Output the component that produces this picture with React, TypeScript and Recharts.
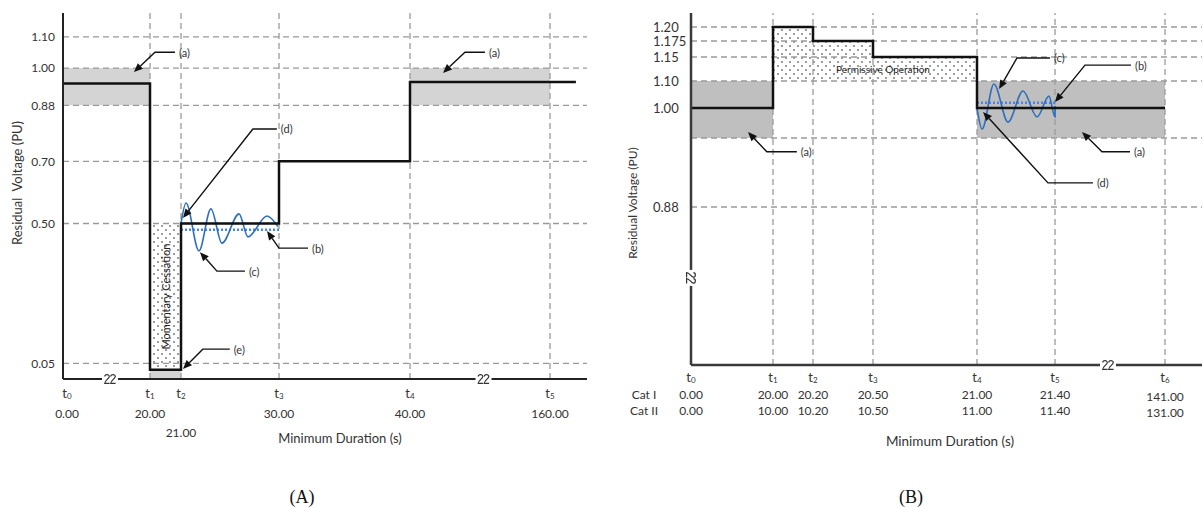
import React from 'react';
import { ComposedChart, Line, XAxis, YAxis, ReferenceArea, ReferenceLine, ReferenceDot } from 'recharts';

const FONT = 'Lato, "Open Sans", sans-serif';
const INK = '#333';
const GRID = '#9a9a9a';
const BLUE = '#2e6fbd';
const BLUE_DOT = '#4a86e8';

// piecewise-linear map, used for the schematic (broken) axes
const piecewise = (from: number[], to: number[]) => (v: number) => {
  let i = 0;
  while (i < from.length - 2 && v > from[i + 1]) i++;
  return to[i] + ((v - from[i]) * (to[i + 1] - to[i])) / (from[i + 1] - from[i]);
};

// ---------------- (A) ----------------
const A_TIMES = [0, 20, 21, 30, 40, 160];
const A_TIME_LABELS = ['0.00', '20.00', '21.00', '30.00', '40.00', '160.00'];
const A_Y_TICKS = [0.05, 0.5, 0.7, 0.88, 1.0, 1.1];
const A_Y_MAX = 1.177;

const A_STEP_T = [0, 20, 21, 30, 40, 181];
const A_STEP_V = [0.95, 0.03, 0.5, 0.7, 0.955, 0.955];

const A_RIPPLE_T = [21, 21.46, 22.65, 23.75, 24.76, 26.33, 27.15, 28.9, 29.9];
const A_RIPPLE_V = [0.5, 0.566, 0.412, 0.547, 0.437, 0.531, 0.457, 0.524, 0.49];

const A_SETTLE_T = [21, 30];
const A_SETTLE_V = 0.48;

const A_BAND = [0.88, 1.0];
const A_BAND_SPANS = [[0, 20], [40, 160]];
const A_BREAKS = [10.8, 103];

const A_NOTES = [
  { label: '(a)', tip: [16.3, 0.987], elbow: [20.16, 1.051], run: 20 },
  { label: '(a)', tip: [68.3, 0.984], elbow: [87.1, 1.051], run: 20 },
  { label: '(d)', tip: [21.18, 0.518], elbow: [27.6, 0.804], run: 24 },
  { label: '(b)', tip: [28.9, 0.476], elbow: [30, 0.421], run: 29 },
  { label: '(c)', tip: [22.74, 0.408], elbow: [24.3, 0.347], run: 28 },
  { label: '(e)', tip: [21.18, 0.032], elbow: [23.0, 0.096], run: 27 },
];

// where the time knots of (A) sit along the drawn axis
const A_AXIS_KNOTS = [...A_TIMES, 190];
const A_AXIS_SLOTS = [0, 87, 118, 216, 347, 487, 524];
const ax = piecewise(A_AXIS_KNOTS, A_AXIS_SLOTS);

// ---------------- (B) ----------------
const B_CAT1 = [0, 20, 20.2, 20.5, 21, 21.4, 141];
const B_CAT1_LABELS = ['0.00', '20.00', '20.20', '20.50', '21.00', '21.40', '141.00'];
const B_CAT2_LABELS = ['0.00', '10.00', '10.20', '10.50', '11.00', '11.40', '131.00'];
const B_Y_TICKS = [0.88, 0.9, 1.0, 1.1, 1.15, 1.175, 1.2];
const B_Y_LABELS = ['0.88', '', '1.00', '1.10', '1.15', '1.175', '1.20'];
const B_GRID_V = [0.88, 0.9, 1.1, 1.15, 1.175, 1.2];

const B_STEP_T = [0, 20, 20.2, 20.5, 21, 141];
const B_STEP_V = [1.0, 1.2, 1.175, 1.15, 1.0, 1.0];

const B_RIPPLE_T = [21.0, 21.026, 21.087, 21.159, 21.236, 21.308, 21.369, 21.451, 21.518];
const B_RIPPLE_V = [1.0, 0.93, 1.089, 0.953, 1.063, 0.97, 1.044, 0.97, 1.007];

const B_SETTLE_T = [21, 21.518];
const B_SETTLE_V = 1.019;

const B_BAND = [0.9, 1.1];
const B_BAND_SPANS = [[0, 20], [21, 141]];
const B_PERMISSIVE_FLOOR = 1.1;
const B_BREAK_T = 79;
const B_BREAK_V = 0.485;

const B_NOTES = [
  { label: '(a)', tip: [13.9, 0.92], elbow: [18.5, 0.896], run: 30 },
  { label: '(c)', tip: [21.113, 1.07], elbow: [21.205, 1.148], run: 33 },
  { label: '(b)', tip: [21.4, 1.022], elbow: [54.0, 1.133], run: 46 },
  { label: '(a)', tip: [50.8, 0.92], elbow: [72.5, 0.896], run: 28 },
  { label: '(d)', tip: [21.031, 0.987], elbow: [21.364, 0.887], run: 45 },
];

const B_AXIS_KNOTS = [...B_CAT1, 160];
const B_AXIS_SLOTS = [0, 82, 122, 182, 286, 364, 474, 511];
const bx = piecewise(B_AXIS_KNOTS, B_AXIS_SLOTS);
const B_V_KNOTS = [0, 0.88, 0.9, 1.0, 1.1, 1.15, 1.175, 1.2, 1.26];
const B_V_SLOTS = [0, 158, 227, 257, 284, 308, 324, 338, 352];
const by = piecewise(B_V_KNOTS, B_V_SLOTS);

// ---------------- shapes ----------------
const leader = (label: string, run: number) => (p: any) => {
  const { x1, y1, x2, y2 } = p;
  const a = Math.atan2(y2 - y1, x2 - x1);
  const L = 9;
  const W = 3.8;
  const hx = x2 - L * Math.cos(a);
  const hy = y2 - L * Math.sin(a);
  const px = W * Math.sin(a);
  const py = -W * Math.cos(a);
  return (
    <g>
      <polyline points={`${x1 + run},${y1} ${x1},${y1} ${hx},${hy}`} fill="none" stroke="#111" strokeWidth={1.4} />
      <polygon points={`${x2},${y2} ${hx + px},${hy + py} ${hx - px},${hy - py}`} fill="#111" />
      <text x={x1 + run + 4} y={y1} dominantBaseline="central" fontSize={11} fill={INK} fontFamily={FONT}>
        {label}
      </text>
    </g>
  );
};

// axis-break glyph: two little "2" strokes on a white gap
const twoStroke = (ox: number) =>
  `M${ox - 2.2},-2.4 C${ox - 2.2},-5 ${ox + 2.3},-5 ${ox + 2.3},-2.4 C${ox + 2.3},-0.4 ${ox - 2.3},1.6 ${ox - 2.3},4.4 L${ox + 2.6},4.4`;

const breakMark = (onYAxis: boolean) => (p: any) => (
  <g transform={`translate(${p.cx} ${p.cy})${onYAxis ? ' rotate(90)' : ''}`}>
    <rect x={-8} y={-7} width={16} height={14} fill="#fff" />
    <path d={`${twoStroke(-3)} ${twoStroke(3)}`} fill="none" stroke="#333" strokeWidth={1.2} />
  </g>
);

const caption = (text: string, size: number, vertical: boolean, dx = 0) => (p: any) => (
  <text
    x={p.cx + dx}
    y={p.cy}
    textAnchor="middle"
    dominantBaseline="central"
    fontSize={size}
    fill="#222"
    fontFamily={FONT}
    transform={vertical ? `rotate(-90 ${p.cx + dx} ${p.cy})` : undefined}
  >
    {text}
  </text>
);

const tSymbol = (x: number, y: number, i: number) => (
  <text x={x} y={y} textAnchor="middle" dominantBaseline="central" fontSize={13} fill={INK} fontFamily={FONT}>
    t<tspan fontSize={8} dy={3}>{i}</tspan>
  </text>
);

const ATick = (p: any) => {
  const i = p.index;
  const x = p.x + (i === 0 ? 4 : 0);
  return (
    <g>
      {tSymbol(x, p.y + 6, i)}
      <text x={x} y={p.y + (i === 2 ? 45 : 26)} textAnchor="middle" dominantBaseline="central" fontSize={12} fill={INK} fontFamily={FONT}>
        {A_TIME_LABELS[i]}
      </text>
    </g>
  );
};

const BTick = (p: any) => {
  const i = p.index;
  const low = i === B_CAT1.length - 1 ? 2 : 0;
  return (
    <g>
      {tSymbol(p.x, p.y + 4, i)}
      <text x={p.x} y={p.y + 21 + low} textAnchor="middle" dominantBaseline="central" fontSize={12} fill={INK} fontFamily={FONT}>
        {B_CAT1_LABELS[i]}
      </text>
      <text x={p.x} y={p.y + 37 + low} textAnchor="middle" dominantBaseline="central" fontSize={12} fill={INK} fontFamily={FONT}>
        {B_CAT2_LABELS[i]}
      </text>
    </g>
  );
};

const BYTick = (p: any) => (
  <text x={p.x - 30} y={p.y} textAnchor="start" dominantBaseline="central" fontSize={13} fill={INK} fontFamily={FONT}>
    {B_Y_LABELS[p.index]}
  </text>
);

const dashed = { stroke: GRID, strokeDasharray: '6 4', strokeWidth: 1.3 };

function PanelA() {
  const step = A_STEP_T.map((t, i) => ({ x: ax(t), v: A_STEP_V[i] }));
  const ripple = A_RIPPLE_T.map((t, i) => ({ x: ax(t), v: A_RIPPLE_V[i] }));
  const settle = A_SETTLE_T.map((t) => ({ x: ax(t), v: A_SETTLE_V }));
  return (
    <ComposedChart width={600} height={508} margin={{ top: 13, right: 13, bottom: 69, left: 3 }}>
      <XAxis
        type="number"
        dataKey="x"
        domain={[0, ax(190)]}
        ticks={A_TIMES.map(ax)}
        interval={0}
        height={60}
        tickLine={false}
        axisLine={{ stroke: '#222', strokeWidth: 2 }}
        tick={(p: any) => <ATick {...p} />}
        allowDataOverflow
      />
      <YAxis
        type="number"
        domain={[0, A_Y_MAX]}
        ticks={A_Y_TICKS}
        interval={0}
        width={60}
        tickLine={false}
        axisLine={{ stroke: '#222', strokeWidth: 2 }}
        tick={{ fontSize: 12, fill: INK, fontFamily: FONT }}
        tickFormatter={(v: number) => v.toFixed(2)}
        allowDataOverflow
      />
      {A_BAND_SPANS.map(([a, b]) => (
        <ReferenceArea key={a} x1={ax(a)} x2={ax(b)} y1={A_BAND[0]} y2={A_BAND[1]} fill="#d4d4d4" fillOpacity={1} />
      ))}
      <ReferenceArea x1={ax(A_STEP_T[1])} x2={ax(A_STEP_T[2])} y1={0} y2={A_STEP_V[1]} fill="#d4d4d4" fillOpacity={1} />
      <ReferenceArea x1={ax(A_STEP_T[1])} x2={ax(A_STEP_T[2])} y1={A_STEP_V[1]} y2={A_STEP_V[2]} fill="url(#dots)" fillOpacity={1} />
      {A_Y_TICKS.map((v) => (
        <ReferenceLine key={'h' + v} y={v} {...dashed} />
      ))}
      {A_TIMES.slice(1).map((t) => (
        <ReferenceLine key={'v' + t} x={ax(t)} {...dashed} />
      ))}
      <ReferenceDot
        x={(ax(A_STEP_T[1]) + ax(A_STEP_T[2])) / 2}
        y={(A_STEP_V[1] + A_STEP_V[2]) / 2}
        shape={caption('Momentary Cessation', 11, true)}
      />
      <Line data={settle} dataKey="v" stroke={BLUE_DOT} strokeWidth={2.5} strokeDasharray="2 2" dot={false} isAnimationActive={false} />
      <Line data={ripple} dataKey="v" type="monotone" stroke={BLUE} strokeWidth={1.6} dot={false} isAnimationActive={false} />
      <Line data={step} dataKey="v" type="stepAfter" stroke="#111" strokeWidth={2.5} dot={false} isAnimationActive={false} />
      {A_NOTES.map((n, i) => (
        <ReferenceLine
          key={'n' + i}
          segment={[
            { x: ax(n.elbow[0]), y: n.elbow[1] },
            { x: ax(n.tip[0]), y: n.tip[1] },
          ]}
          shape={leader(n.label, n.run)}
        />
      ))}
      {A_BREAKS.map((t) => (
        <ReferenceDot key={'b' + t} x={ax(t)} y={0} shape={breakMark(false)} />
      ))}
    </ComposedChart>
  );
}

function PanelB() {
  const step = B_STEP_T.map((t, i) => ({ x: bx(t), v: by(B_STEP_V[i]) }));
  const ripple = B_RIPPLE_T.map((t, i) => ({ x: bx(t), v: by(B_RIPPLE_V[i]) }));
  const settle = B_SETTLE_T.map((t) => ({ x: bx(t), v: by(B_SETTLE_V) }));
  const permissive = [1, 2, 3].map((i) => ({ a: B_STEP_T[i], b: B_STEP_T[i + 1], top: B_STEP_V[i] }));
  return (
    <ComposedChart width={603} height={508} margin={{ top: 13, right: 1, bottom: 83, left: 31 }}>
      <XAxis
        type="number"
        dataKey="x"
        domain={[0, bx(160)]}
        ticks={B_CAT1.map(bx)}
        interval={0}
        height={60}
        tickLine={false}
        axisLine={{ stroke: '#3a3a3a', strokeWidth: 2.5 }}
        tick={(p: any) => <BTick {...p} />}
        allowDataOverflow
      />
      <YAxis
        type="number"
        domain={[0, by(1.26)]}
        ticks={B_Y_TICKS.map(by)}
        interval={0}
        width={60}
        tickLine={false}
        axisLine={{ stroke: '#3a3a3a', strokeWidth: 2.5 }}
        tick={(p: any) => <BYTick {...p} />}
        allowDataOverflow
      />
      {B_BAND_SPANS.map(([a, b]) => (
        <ReferenceArea key={a} x1={bx(a)} x2={bx(b)} y1={by(B_BAND[0])} y2={by(B_BAND[1])} fill="#bfbfbf" fillOpacity={1} />
      ))}
      {permissive.map((s) => (
        <ReferenceArea key={'p' + s.a} x1={bx(s.a)} x2={bx(s.b)} y1={by(B_PERMISSIVE_FLOOR)} y2={by(s.top)} fill="url(#dots)" fillOpacity={1} />
      ))}
      {B_GRID_V.map((v) => (
        <ReferenceLine key={'h' + v} y={by(v)} {...dashed} />
      ))}
      {B_CAT1.slice(1).map((t) => (
        <ReferenceLine key={'v' + t} x={bx(t)} {...dashed} />
      ))}
      <ReferenceDot
        x={(bx(B_STEP_T[1]) + bx(B_STEP_T[4])) / 2}
        y={(by(B_PERMISSIVE_FLOOR) + by(B_STEP_V[3])) / 2}
        shape={caption('Permissive Operation', 10, false, 8)}
      />
      <Line data={settle} dataKey="v" stroke={BLUE_DOT} strokeWidth={2.5} strokeDasharray="2 2" dot={false} isAnimationActive={false} />
      <Line data={ripple} dataKey="v" type="monotone" stroke={BLUE} strokeWidth={1.6} dot={false} isAnimationActive={false} />
      <Line data={step} dataKey="v" type="stepAfter" stroke="#111" strokeWidth={2.5} dot={false} isAnimationActive={false} />
      {B_NOTES.map((n, i) => (
        <ReferenceLine
          key={'n' + i}
          segment={[
            { x: bx(n.elbow[0]), y: by(n.elbow[1]) },
            { x: bx(n.tip[0]), y: by(n.tip[1]) },
          ]}
          shape={leader(n.label, n.run)}
        />
      ))}
      <ReferenceDot x={bx(B_BREAK_T)} y={0} shape={breakMark(false)} />
      <ReferenceDot x={0} y={by(B_BREAK_V)} shape={breakMark(true)} />
    </ComposedChart>
  );
}

const text = (s: React.CSSProperties, content: string, rotate = false) => (
  <div
    style={{
      position: 'absolute',
      whiteSpace: 'pre',
      color: INK,
      transform: rotate ? 'translate(-50%, -50%) rotate(-90deg)' : 'translate(-50%, -50%)',
      ...s,
    }}
  >
    {content}
  </div>
);

export default function App() {
  return (
    <div style={{ position: 'absolute', left: 0, top: 0, width: 1203, height: 508, background: '#fff', fontFamily: FONT, overflow: 'hidden' }}>
      <svg width={0} height={0} style={{ position: 'absolute' }}>
        <defs>
          <pattern id="dots" width={8} height={8} patternUnits="userSpaceOnUse">
            <circle cx={2} cy={2} r={0.8} fill="#222" />
            <circle cx={6} cy={6} r={0.8} fill="#222" />
          </pattern>
        </defs>
      </svg>
      <div style={{ position: 'absolute', left: 0, top: 0 }}>
        <PanelA />
      </div>
      <div style={{ position: 'absolute', left: 600, top: 0 }}>
        <PanelB />
      </div>
      {text({ left: 17, top: 183, fontSize: 13 }, 'Residual  Voltage (PU)', true)}
      {text({ left: 340, top: 438, fontSize: 13 }, 'Minimum Duration (s)')}
      {text({ left: 632, top: 203, fontSize: 12 }, 'Residual Voltage (PU)', true)}
      {text({ left: 950, top: 441, fontSize: 13.5 }, 'Minimum Duration (s)')}
      {text({ left: 644, top: 394, fontSize: 12 }, 'Cat I')}
      {text({ left: 644, top: 410, fontSize: 12 }, 'Cat II')}
      {text({ left: 302, top: 497, fontSize: 18, fontFamily: '"Liberation Serif", serif', color: '#111' }, '(A)')}
      {text({ left: 911, top: 497, fontSize: 18, fontFamily: '"Liberation Serif", serif', color: '#111' }, '(B)')}
    </div>
  );
}
